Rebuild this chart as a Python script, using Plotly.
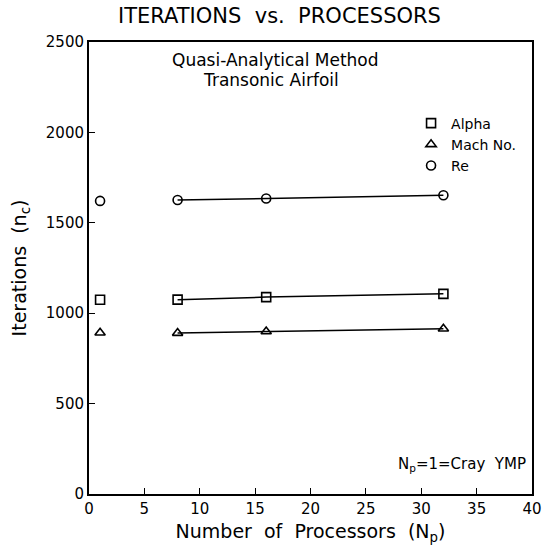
import plotly.graph_objects as go

# Data
np_single = [1]
np_multi = [8, 16, 32]
alpha_single = [1074]
alpha_multi = [1075, 1089, 1107]
mach_single = [892]
mach_multi = [890, 899, 914]
re_single = [1621]
re_multi = [1626, 1634, 1652]

series = [
    ("Alpha", "square-open", alpha_single, alpha_multi),
    ("Mach No.", "triangle-up-open", mach_single, mach_multi),
    ("Re", "circle-open", re_single, re_multi),
]

FONT = "DejaVu Sans"
fig = go.Figure()
for name, sym, single, multi in series:
    fig.add_trace(go.Scatter(
        x=np_single, y=single, mode="markers", name=name,
        marker=dict(symbol=sym, size=9, color="black", line=dict(width=1.6, color="black")),
        showlegend=True))
    fig.add_trace(go.Scatter(
        x=np_multi, y=multi, mode="lines+markers", name=name,
        line=dict(color="black", width=1.5),
        marker=dict(symbol=sym, size=9, color="black", line=dict(width=1.6, color="black")),
        showlegend=False))

fig.update_layout(
    width=553, height=550,
    margin=dict(l=89, r=11, t=42, b=54),
    paper_bgcolor="white", plot_bgcolor="white",
    font=dict(family=FONT, color="black", size=14),
    legend=dict(x=0.727, y=0.855, xanchor="left", yanchor="top",
                bgcolor="rgba(0,0,0,0)", font=dict(size=14),
                itemwidth=30, tracegroupgap=0),
    xaxis=dict(range=[0, 40], tickvals=[0, 5, 10, 15, 20, 25, 30, 35, 40],
               ticks="inside", ticklen=6, tickwidth=1.2, tickcolor="black",
               showline=True, linecolor="black", linewidth=2, mirror=True,
               showgrid=False, zeroline=False,
               tickfont=dict(size=15),
               title=dict(text="Number  of  Processors  (N<sub>p</sub>)", font=dict(size=19), standoff=8)),
    yaxis=dict(range=[0, 2500], tickvals=[0, 500, 1000, 1500, 2000, 2500],
               ticks="inside", ticklen=6, tickwidth=1.2, tickcolor="black",
               showline=True, linecolor="black", linewidth=2, mirror=True,
               showgrid=False, zeroline=False,
               tickfont=dict(size=15),
               title=dict(text="Iterations  (n<sub>c</sub>)", font=dict(size=19), standoff=14)),
    annotations=[
        dict(text="ITERATIONS  vs.  PROCESSORS", xref="paper", yref="paper",
             x=0.43, y=1.0, yshift=26, xanchor="center", yanchor="middle",
             showarrow=False, font=dict(size=21)),
        dict(text="Quasi-Analytical Method", xref="paper", yref="paper",
             x=0.42, y=0.96, xanchor="center", yanchor="middle",
             showarrow=False, font=dict(size=17)),
        dict(text="Transonic Airfoil", xref="paper", yref="paper",
             x=0.41, y=0.917, xanchor="center", yanchor="middle",
             showarrow=False, font=dict(size=17)),
        dict(text="N<sub>p</sub>=1=Cray  YMP", xref="paper", yref="paper",
             x=0.99, y=0.066, xanchor="right", yanchor="middle",
             showarrow=False, font=dict(size=15)),
    ],
)

fig.write_html("out.html")
